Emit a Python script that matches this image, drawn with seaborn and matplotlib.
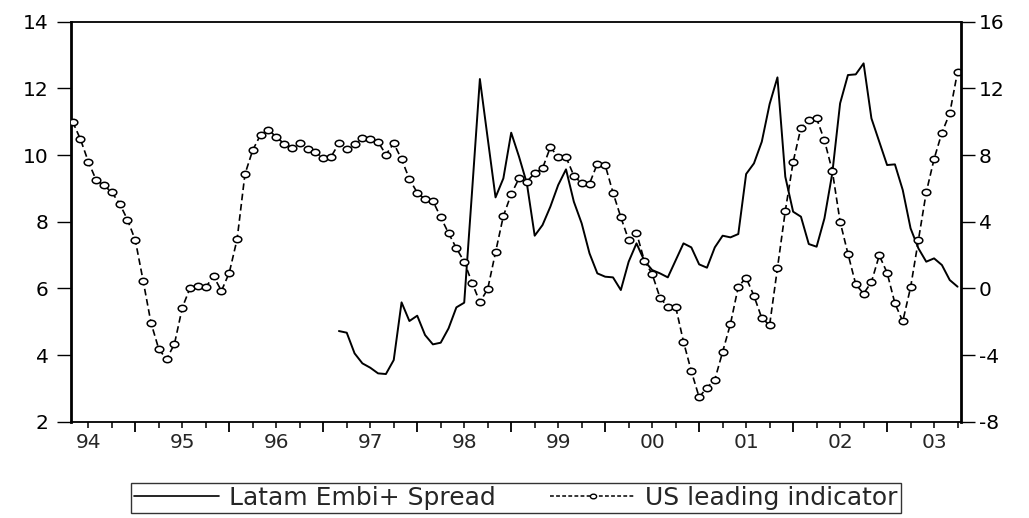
import numpy as np
import pandas as pd
import matplotlib
matplotlib.use("Agg")
import matplotlib.pyplot as plt
import seaborn as sns
from matplotlib.lines import Line2D
from matplotlib.path import Path
from matplotlib.transforms import Affine2D

# ---------------- data (monthly, May 1994 - Oct 2003) ----------------
start_month = "1994-05-01"
n_months = 114

# US leading indicator (right axis), one value per month
us_leading = [
    10.0, 8.94, 7.6, 6.5, 6.18, 5.76, 5.08, 4.12, 2.89, 0.46,
    -2.06, -3.65, -4.25, -3.33, -1.16, 0.04, 0.12, 0.08, 0.72, -0.15,
    0.94, 2.95, 6.85, 8.3, 9.22, 9.52, 9.08, 8.68, 8.44, 8.72,
    8.34, 8.17, 7.82, 7.9, 8.7, 8.36, 8.64, 9.02, 8.96, 8.8,
    8.02, 8.7, 7.75, 6.56, 5.74, 5.34, 5.24, 4.27, 3.31, 2.41,
    1.6, 0.34, -0.83, -0.04, 2.17, 4.34, 5.65, 6.6, 6.4, 6.92,
    7.2, 8.47, 7.88, 7.88, 6.76, 6.3, 6.28, 7.48, 7.4, 5.74,
    4.27, 2.9, 3.34, 1.66, 0.86, -0.56, -1.11, -1.1, -3.2, -4.97,
    -6.53, -5.96, -5.48, -3.81, -2.13, 0.1, 0.64, -0.45, -1.79, -2.2,
    1.22, 4.64, 7.58, 9.64, 10.08, 10.2, 8.88, 7.06, 4.0, 2.08,
    0.24, -0.32, 0.38, 1.98, 0.94, -0.9, -1.98, 0.06, 2.9, 5.76,
    7.76, 9.34, 10.5, 13.0,
]

# Latam Embi+ spread (left axis), starts March 1997
embi_start = "1997-03-01"
latam_embi = [
    4.72, 4.67, 4.05, 3.75, 3.62, 3.45, 3.43, 3.85, 5.58, 5.02,
    5.18, 4.6, 4.32, 4.37, 4.8, 5.43, 5.57, 8.9, 12.28, 10.5,
    8.73, 9.3, 10.67, 9.95, 9.15, 7.58, 7.9, 8.45, 9.1, 9.57,
    8.6, 7.95, 7.05, 6.45, 6.35, 6.33, 5.95, 6.8, 7.35, 6.83,
    6.55, 6.45, 6.33, 6.84, 7.35, 7.23, 6.72, 6.62, 7.23, 7.58,
    7.53, 7.63, 9.43, 9.75, 10.4, 11.53, 12.33, 9.35, 8.3, 8.15,
    7.33, 7.25, 8.1, 9.45, 11.55, 12.4, 12.42, 12.75, 11.1, 10.4,
    9.7, 9.72, 8.95, 7.8, 7.2, 6.8, 6.9, 6.7, 6.25, 6.05,
]

series_labels = ["Latam Embi+ Spread", "US leading indicator"]

# ---------------- build frames ----------------
dates = pd.date_range(start_month, periods=n_months, freq="MS")
df = pd.DataFrame({"date": dates, "t": np.arange(n_months), "lead": us_leading})
embi_idx = int(np.where(dates == pd.Timestamp(embi_start))[0][0])
embi_full = [np.nan] * embi_idx + latam_embi
df["embi"] = embi_full[:n_months]

# ---------------- figure ----------------
sns.set_style("ticks")
plt.rcParams["font.family"] = ["DejaVu Sans"]
plt.rcParams["axes.unicode_minus"] = False

W, H = 1029, 518
fig = plt.figure(figsize=(W / 100, H / 100), dpi=100)
L, R, T, B = 70.7, 960.7, 21.7, 421.7
ax = fig.add_axes([L / W, 1 - B / H, (R - L) / W, (B - T) / H])
ax2 = ax.twinx()

ellipse = Path.unit_circle().transformed(Affine2D().scale(1.35, 1.0))

sns.lineplot(data=df.dropna(subset=["embi"]), x="t", y="embi", ax=ax,
             color="black", linewidth=1.4, legend=False)
sns.lineplot(data=df, x="t", y="lead", ax=ax2, color="black",
             linewidth=1.2, linestyle=(0, (4.0, 2.2)), marker=ellipse,
             markersize=6.2, markerfacecolor="white", markeredgecolor="black",
             markeredgewidth=1.1, legend=False)

for a in (ax, ax2):
    a.set_xlabel("")
    a.set_ylabel("")

ax.set_xlim(-0.25, 113.4)
ax.set_ylim(2, 14)
ax2.set_ylim(-8, 16)
ax.set_yticks(np.arange(2, 15, 2))
ax2.set_yticks(np.arange(-8, 17, 4))

# x ticks: quarterly minor ticks, long ticks at January, labels at July
months = df["date"].dt.month.values
years = df["date"].dt.year.values
t = df["t"].values
major_pos = t[months == 1]
minor_mask = (months % 3 == 1) & (months != 1)
minor_pos = t[minor_mask]
minor_lab = [f"{y % 100:02d}" if m == 7 else "" for y, m in zip(years[minor_mask], months[minor_mask])]
ax.set_xticks(major_pos)
ax.set_xticklabels([""] * len(major_pos))
ax.set_xticks(minor_pos, minor=True)
ax.set_xticklabels(minor_lab, minor=True)
ax.tick_params(axis="x", which="major", direction="out", length=7, width=1.3)
ax.tick_params(axis="x", which="minor", direction="out", length=4.5, width=1.3,
               labelsize=14.5, pad=3.5)

ax.tick_params(axis="y", direction="out", length=10, width=1, labelsize=14.5, pad=6)
ax2.tick_params(axis="y", direction="out", length=10, width=1, labelsize=14.5, pad=3)

for s in ("top", "bottom"):
    ax.spines[s].set_linewidth(1.3)
ax.spines["left"].set_linewidth(2.0)
ax.spines["right"].set_visible(False)
for s in ("top", "bottom", "left"):
    ax2.spines[s].set_visible(False)
ax2.spines["right"].set_linewidth(2.0)
for a in (ax, ax2):
    for s in a.spines.values():
        s.set_color("black")
ax.tick_params(colors="black")
ax2.tick_params(colors="black")

# legend
handles = [
    Line2D([], [], color="black", linewidth=1.2),
    Line2D([], [], color="black", linewidth=1.1, linestyle=(0, (2.5, 1.5)),
           marker=ellipse, markersize=4.5, markerfacecolor="white",
           markeredgecolor="black", markeredgewidth=1.0),
]
leg = fig.legend(handles, series_labels, loc="center",
                 bbox_to_anchor=(((L + R) / 2) / W, 1 - 498 / H), ncol=2,
                 frameon=True, fancybox=False, edgecolor="black", fontsize=18,
                 handlelength=3.4, handletextpad=0.4, columnspacing=2.2,
                 borderpad=0.12, borderaxespad=0)
leg.get_frame().set_linewidth(1.0)

fig.savefig("out.png", dpi=100, facecolor="white")
